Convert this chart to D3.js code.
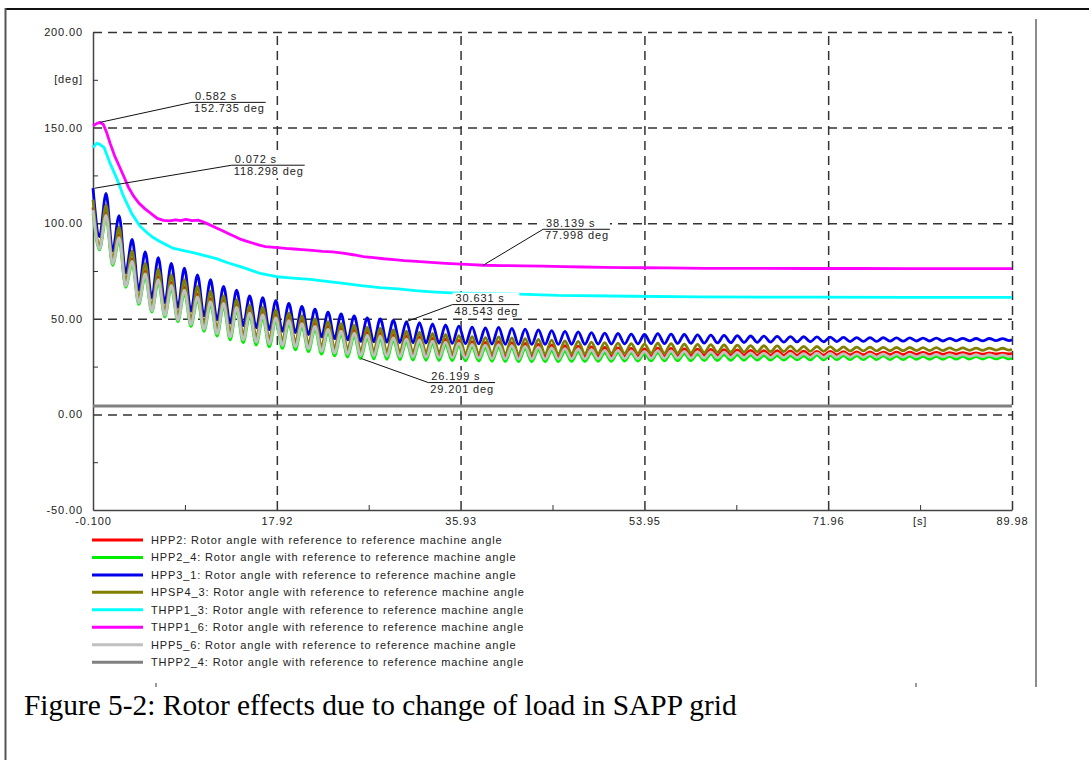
<!DOCTYPE html>
<html lang="en">
<head>
<meta charset="UTF-8">
<title>Rotor effects due to change of load in SAPP grid</title>
<script src="https://d3js.org/d3.v7.min.js"></script>
<style>
  body { margin: 0; background: #fff; }
  svg { display: block; }
  .tick text, .lbl { font-family: "Liberation Sans", Arial, sans-serif; font-size: 11px; fill: #222; letter-spacing: 0.87px; }
  .grid line { stroke: #333; stroke-width: 1.5; stroke-dasharray: 9 6; }
  .grid path { display: none; }
  .axis path { stroke: #444; stroke-width: 1.5; }
  .caption { font-family: "Liberation Serif", "Times New Roman", serif; font-size: 29.4px; fill: #000; }
</style>
</head>
<body>
<div id="chart"></div>
<script>
// axis ticks
const xTicks = [-0.1, 17.92, 35.93, 53.95, 71.96, 89.98];
const xTickLabels = ["-0.100", "17.92", "35.93", "53.95", "71.96", "89.98"];
const xMinor = [8.91, 26.925, 44.94, 62.955, 80.97];
const xUnit = "[s]", xUnitAt = 80.97;
const yTicks = [-50, 0, 50, 100, 150, 200];
const yTickLabels = ["-50.00", "0.00", "50.00", "100.00", "150.00", "200.00"];
const yMinor = [-25, 25, 75, 125, 175];
const yUnit = "[deg]", yUnitAt = 175;

// times of the swing peaks / troughs (shared by the oscillating machines)
const tOsc = [
  -0.1,0.54, 1.18,1.82, 2.46,3.1, 3.74,4.38, 5.02,5.66, 6.3,6.94, 7.58,8.22, 8.86,9.5, 10.14,10.78, 11.42,12.06,
  12.7,13.34, 13.98,14.62, 15.26,15.9, 16.54,17.18, 17.82,18.46, 19.1,19.74, 20.38,21.02, 21.66,22.3, 22.94,23.58, 24.22,24.86,
  25.5,26.14, 26.78,27.42, 28.06,28.7, 29.34,29.98, 30.62,31.26, 31.9,32.54, 33.18,33.82, 34.46,35.11, 35.76,36.41, 37.06,37.71,
  38.36,39.01, 39.66,40.31, 40.96,41.61, 42.26,42.91, 43.56,44.21, 44.86,45.51, 46.16,46.81, 47.46,48.11, 48.76,49.41, 50.06,50.71,
  51.36,52.01, 52.66,53.31, 53.96,54.61, 55.26,55.91, 56.56,57.21, 57.86,58.51, 59.16,59.81, 60.46,61.11, 61.76,62.41, 63.06,63.71,
  64.36,65.01, 65.66,66.31, 66.96,67.61, 68.26,68.91, 69.56,70.21, 70.86,71.51, 72.16,72.81, 73.46,74.11, 74.76,75.41, 76.06,76.71,
  77.36,78.01, 78.66,79.31, 79.96,80.61, 81.26,81.91, 82.56,83.21, 83.86,84.51, 85.16,85.81, 86.46,87.11, 87.76,88.41, 89.06,89.71,
  89.98
];

const hpp2 = [
  108.3,87, 105.6,79.5, 94,68, 81.5,59, 75,55, 72,52.5, 69,50, 66.5,48, 63,45.5, 60.5,43.5,
  59.5,41.8, 57.5,40.5, 54.5,39.3, 53.5,38.3, 52,37.5, 50.5,36.8, 49,35.8, 47.5,34.5, 46,33.6, 45,33,
  44,32.2, 43,32, 42.5,31.8, 41.7,31.6, 41,31.4, 40.5,31.3, 39.8,31.2, 39.3,31.1, 38.7,31, 38.1,30.9,
  37.7,30.3, 38,30.2, 37.5,30.1, 37.1,30.1, 36.7,30.1, 36.3,30.1, 35.9,30.2, 35.7,30.2, 35.3,30.3, 35,30.3,
  34.8,30.4, 34.5,30.4, 34.3,30.5, 34.7,30.5, 34.5,30.6, 34.3,30.7, 34.1,30.8, 34,30.9, 33.8,31, 33.7,31,
  33.5,30.9, 33.4,30.9, 33.3,30.9, 33.2,30.9, 33.1,31, 33,31, 32.9,31.1, 32.8,31.1, 32.7,31.2, 32.7,31.2,
  32.6,31.3, 32.5,31.3, 32.5,31.4, 32.4,31.4, 32.4,31.4, 32.3,31.5, 32.3,31.5, 32.2,31.5, 32.2,31.6, 32.1,31.6,
  31.9
];
const hpp2_4 = [
  105.3,86, 102.6,78, 91,66.5, 78.5,57.5, 72,53.5, 69,51, 66,48.5, 63.5,46, 60,43.5, 57.5,41,
  56.5,39, 54.5,37.5, 51.5,36.3, 50.5,35.3, 49,34.5, 47.5,33.8, 46,32.8, 44.5,31.5, 43,30.6, 42,30,
  41,29.2, 40,29, 39.5,28.8, 38.7,28.6, 38,28.4, 37.5,28.3, 36.8,28.2, 36.3,28.1, 35.7,28, 35.1,27.9,
  34.7,27.8, 35,27.7, 34.5,27.6, 34.1,27.6, 33.7,27.6, 33.3,27.6, 32.9,27.7, 32.7,27.7, 32.3,27.8, 32,27.8,
  32.3,27.9, 32,27.9, 31.8,28, 32.2,28, 32,28.1, 31.8,28.1, 31.6,28.2, 31.5,28.2, 31.3,28.3, 31.2,28.3,
  31,28.4, 30.9,28.4, 30.8,28.4, 30.7,28.5, 30.6,28.5, 31,28.5, 30.9,28.6, 30.8,28.6, 30.7,28.6, 30.7,28.7,
  30.6,28.7, 30.5,28.7, 30.5,28.8, 30.4,28.8, 30.4,28.8, 30.3,28.9, 30.3,28.9, 30.2,28.9, 30.2,29, 30.1,29,
  29.5
];
const hpp3_1 = [
  118.3,93, 115.6,85.5, 104,74, 91.5,65, 85,61, 82,58.5, 79,56, 76.5,54, 73,51.5, 70.5,49.5,
  67,47.8, 65,46.5, 62,45.3, 61,44.3, 59.5,43.5, 58,42.8, 56.5,41.8, 55,40.5, 53.5,39.6, 52.5,39,
  51.5,38.2, 50.5,38, 50,37.8, 49.2,37.6, 48.5,37.4, 48,37.3, 47.3,37.2, 46.8,37.1, 46.2,37, 45.6,36.9,
  45.2,36.8, 45.5,36.7, 45,36.6, 44.6,36.6, 44.2,36.6, 43.8,36.6, 43.4,36.7, 43.2,36.7, 42.8,36.8, 42.5,36.8,
  42.3,36.9, 42,36.9, 41.8,37, 42.2,37, 42,37.1, 41.8,37.2, 41.6,37.3, 41.5,37.4, 41.3,37.5, 41.2,37.6,
  41,37.7, 40.9,37.8, 40.8,37.8, 40.7,37.9, 40.6,38, 40.5,38, 40.4,38.1, 40.3,38.1, 40.2,38.2, 40.2,38.2,
  40.1,38.3, 40,38.3, 40,38.4, 39.9,38.4, 39.9,38.4, 39.8,38.5, 39.8,38.5, 39.7,38.5, 39.7,38.6, 39.6,38.6,
  39.1
];
const hpsp4_3 = [
  112.3,88, 109.6,80.5, 98,69, 85.5,60, 79,56, 76,53.5, 73,51, 70.5,49, 67,46.5, 64.5,44.5,
  62,42.8, 60,41.5, 57,40.3, 56,39.3, 54.5,38.5, 53,37.8, 51.5,36.8, 50,35.5, 48.5,34.6, 47.5,34,
  46.5,33.2, 45.5,33, 45,32.8, 44.2,32.6, 43.5,32.4, 43,32.3, 42.3,32.2, 41.8,32.1, 41.2,32, 40.6,31.9,
  40.2,31.8, 40.5,31.7, 40,31.6, 39.6,31.6, 39.2,31.6, 38.8,31.6, 38.4,31.7, 38.2,31.7, 37.8,31.8, 37.5,31.8,
  37.3,31.9, 37,31.9, 36.8,32, 37.2,32, 37,32.1, 36.8,32.2, 36.6,32.3, 36.5,32.4, 36.3,32.5, 36.2,32.6,
  36,32.7, 35.9,32.8, 35.8,32.8, 35.7,32.9, 35.6,33, 35.5,33, 35.4,33.1, 35.3,33.1, 35.2,33.2, 35.2,33.2,
  35.1,33.3, 35,33.3, 35,33.4, 34.9,33.4, 34.9,33.4, 34.8,33.5, 34.8,33.5, 34.7,33.5, 34.7,33.6, 34.6,33.6,
  34.1
];
const hpp5_6 = [
  106.8,86.5, 104.1,78.8, 92.5,67.2, 80,58.2, 73.5,54.2, 70.5,51.8, 67.5,49.2, 65,47, 61.5,44.5, 59,42.2,
  58,40.4, 56,39, 53,37.8, 52,36.8, 50.5,36, 49,35.3, 47.5,34.3, 46,33, 44.5,32.1, 43.5,31.5,
  42.5,30.7, 41.5,30.5, 41,30.3, 40.2,30.1, 39.5,29.9, 39,29.8, 38.3,29.7, 37.8,29.6, 37.2,29.5, 36.6,29.4,
  36.2,29.1, 36.5,29, 36,28.9, 35.6,28.9, 35.2,28.9, 34.8,28.9, 34.4,29, 34.2,29, 33.8,29.1, 33.5,29.1,
  33.5,29.2, 33.2,29.2, 33,29.3, 33.4,29.3, 33.2,29.4, 33,29.4, 32.8,29.5, 32.7,29.6, 32.5,29.7, 32.4,29.7,
  32.2,29.7, 32.1,29.7, 32,29.7, 31.9,29.7, 31.8,29.8, 32,29.8, 31.9,29.9, 31.8,29.9, 31.7,29.9, 31.7,30,
  31.6,30, 31.5,30, 31.5,30.1, 31.4,30.1, 31.4,30.1, 31.3,30.2, 31.3,30.2, 31.2,30.2, 31.2,30.3, 31.1,30.3,
  30.7
];

// slower machines
const thpp1_3T = [-0.1,0.25,0.5,1.0,1.6,2.3,2.9,3.7,4.5,5.2,5.8,6.5,7.7,9.8,12,13.1,14.5,16.3,17.9,19.5,21.2,23,24.5,26.2,28,29.8,31.5,33.1,35,36,41.6,45.5,52.7,59.3,70,80,89.98];
const thpp1_3V = [139.5,141.8,141.5,139.5,131,122.5,114,105,98.5,95,92.5,90.3,87,84.5,81.5,79.3,77,73.7,72,71.3,70.6,69.5,68.5,67.3,66.3,65.6,64.7,64.1,63.6,63.4,62.9,62.2,61.8,61.5,61.3,61.2,61.2];
const thpp1_6T = [-0.1,0.3,0.58,0.9,1.2,1.6,2.0,2.5,3.0,3.4,3.9,4.4,5.0,5.6,6.2,6.8,7.4,8.0,8.5,9.0,9.6,10.2,10.8,11.4,12.0,12.6,13.2,13.8,14.4,15.0,15.6,16.2,16.8,17.4,18.0,18.8,19.6,20.4,21.4,22.4,23.4,24.4,25.4,26.4,27.4,28.4,29.4,30.4,31.6,33,34.5,36,37,38.139,40,42,44,46,48,50,52,54,56,58,60,65,70,75,80,85,89.98];
const thpp1_6V = [151,152.2,152.7,151.8,148,141.5,135.5,129.5,123.5,118.5,114,110.5,107.5,105,102.5,101.5,101.2,101.8,101.3,102,101.4,101.6,100.5,99,97.5,96,94.5,93,91.5,90.5,89.5,88.5,87.8,87.5,87.2,86.8,86.5,86.2,85.8,85.3,85,84.3,83.5,82.5,82,81.4,81,80.4,80,79.5,79,78.6,78.3,78,77.8,77.7,77.5,77.3,77.1,76.9,76.8,76.7,76.6,76.5,76.4,76.4,76.3,76.3,76.2,76.2,76.2];
const thpp2_4T = [-0.1, 89.98];
const thpp2_4V = [4.4, 4.4];

// cursor readouts
const annotT = [0.582, 0.072, 38.139, 30.631, 26.199];
const annotV = [152.735, 118.298, 77.998, 48.543, 29.201];

const series = [
  { name: "HPP2",    color: "#ff0000", t: tOsc, v: hpp2,    osc: true },
  { name: "HPP2_4",  color: "#00ee00", t: tOsc, v: hpp2_4,  osc: true },
  { name: "HPP3_1",  color: "#0000ee", t: tOsc, v: hpp3_1,  osc: true },
  { name: "HPSP4_3", color: "#808000", t: tOsc, v: hpsp4_3, osc: true },
  { name: "THPP1_3", color: "#00ffff", t: thpp1_3T, v: thpp1_3V },
  { name: "THPP1_6", color: "#ff00ff", t: thpp1_6T, v: thpp1_6V },
  { name: "HPP5_6",  color: "#c0c0c0", t: tOsc, v: hpp5_6,  osc: true },
  { name: "THPP2_4", color: "#808080", t: thpp2_4T, v: thpp2_4V }
];

const W = 1089, H = 760;
const plotL = 93, plotR = 1012, plotT = 32, plotB = 510;
// leader knee offsets (px) for the readouts
const knee = [[92, -20], [137, -23], [60, -36], [46, -17], [67, 24]];

const x = d3.scaleLinear().domain([xTicks[0], xTicks[xTicks.length - 1]]).range([plotL, plotR]);
const y = d3.scaleLinear().domain([yTicks[0], yTicks[yTicks.length - 1]]).range([plotB, plotT]);

const svg = d3.select("#chart").append("svg")
    .attr("width", W)
    .attr("height", H);

// document frame
svg.append("line").attr("x1", 5).attr("y1", 9).attr("x2", W).attr("y2", 9)
    .attr("stroke", "#111").attr("stroke-width", 2);
svg.append("line").attr("x1", 5.5).attr("y1", 8).attr("x2", 5.5).attr("y2", H)
    .attr("stroke", "#555").attr("stroke-width", 2);
svg.append("line").attr("x1", 1036).attr("y1", 19).attr("x2", 1036).attr("y2", 687)
    .attr("stroke", "#666").attr("stroke-width", 1.5);
[156, 916].forEach(px => svg.append("line").attr("x1", px).attr("x2", px)
    .attr("y1", 683).attr("y2", 687).attr("stroke", "#333"));

// grid
svg.append("g").attr("class", "grid")
    .attr("transform", `translate(0,${plotB})`)
    .call(d3.axisBottom(x).tickValues(xTicks.slice(1)).tickSize(-(plotB - plotT)).tickFormat(""));
svg.append("g").attr("class", "grid")
    .attr("transform", `translate(${plotL},0)`)
    .call(d3.axisLeft(y).tickValues(yTicks.slice(1)).tickSize(-(plotR - plotL)).tickFormat(""));

// axes
svg.append("g").attr("class", "axis")
    .attr("transform", `translate(0,${plotB})`)
    .call(d3.axisBottom(x).tickValues(xTicks).tickFormat((d, i) => xTickLabels[i])
        .tickSize(0).tickSizeOuter(0).tickPadding(7));
svg.append("g").attr("class", "axis")
    .attr("transform", `translate(${plotL},0)`)
    .call(d3.axisLeft(y).tickValues(yTicks).tickFormat((d, i) => yTickLabels[i])
        .tickSize(0).tickSizeOuter(0).tickPadding(10));

// minor ticks (inward)
svg.append("g").attr("transform", `translate(0,${plotB})`)
    .call(d3.axisBottom(x).tickValues(xMinor).tickSize(-5).tickFormat(""))
    .call(g => g.select(".domain").remove())
    .selectAll("line").attr("stroke", "#333");
svg.append("g").attr("transform", `translate(${plotL},0)`)
    .call(d3.axisLeft(y).tickValues(yMinor).tickSize(-5).tickFormat(""))
    .call(g => g.select(".domain").remove())
    .selectAll("line").attr("stroke", "#333");

svg.append("text").attr("class", "lbl")
    .attr("x", x(xUnitAt)).attr("y", plotB + 15).attr("text-anchor", "middle").text(xUnit);
svg.append("text").attr("class", "lbl")
    .attr("x", plotL - 10).attr("y", y(yUnitAt)).attr("dy", "0.32em").attr("text-anchor", "end").text(yUnit);

// curves
series.forEach(s => {
    const pts = s.t.map((t, i) => [t, s.v[i]]);
    const line = d3.line()
        .x(d => x(d[0]))
        .y(d => y(d[1]))
        .curve(s.osc ? d3.curveMonotoneX : d3.curveLinear);
    svg.append("path")
        .datum(pts)
        .attr("fill", "none")
        .attr("stroke", s.color)
        .attr("stroke-width", 2.8)
        .attr("stroke-linejoin", "round")
        .attr("d", line);
});

// cursor readouts
annotT.forEach((t, i) => {
    const px = x(t), py = y(annotV[i]);
    const kx = px + knee[i][0], ky = py + knee[i][1];
    const g = svg.append("g");
    const box = g.append("rect").attr("fill", "#fff");
    const t1 = g.append("text").attr("class", "lbl")
        .attr("x", kx + 3).attr("y", ky - 2.5).text(`${t.toFixed(3)} s`);
    const t2 = g.append("text").attr("class", "lbl")
        .attr("x", kx + 2).attr("y", ky + 10).text(`${annotV[i].toFixed(3)} deg`);
    const w = Math.max(t1.node().getComputedTextLength(), t2.node().getComputedTextLength()) + 3;
    box.attr("x", kx).attr("y", ky - 12).attr("width", w).attr("height", 25);
    g.append("path")
        .attr("d", `M${px},${py}L${kx},${ky}L${kx + w},${ky}`)
        .attr("fill", "none")
        .attr("stroke", "#111")
        .attr("stroke-width", 1);
});

// legend
const legend = svg.append("g");
series.forEach((s, i) => {
    const ly = 540 + i * 17.45;
    legend.append("line")
        .attr("x1", 92).attr("x2", 143).attr("y1", ly).attr("y2", ly)
        .attr("stroke", s.color).attr("stroke-width", 3);
    legend.append("text").attr("class", "lbl")
        .attr("x", 151).attr("y", ly).attr("dy", "0.35em")
        .text(`${s.name}: Rotor angle with reference to reference machine angle`);
});

svg.append("text").attr("class", "caption")
    .attr("x", 24).attr("y", 715)
    .text("Figure 5-2: Rotor effects due to change of load in SAPP grid");
</script>
</body>
</html>
